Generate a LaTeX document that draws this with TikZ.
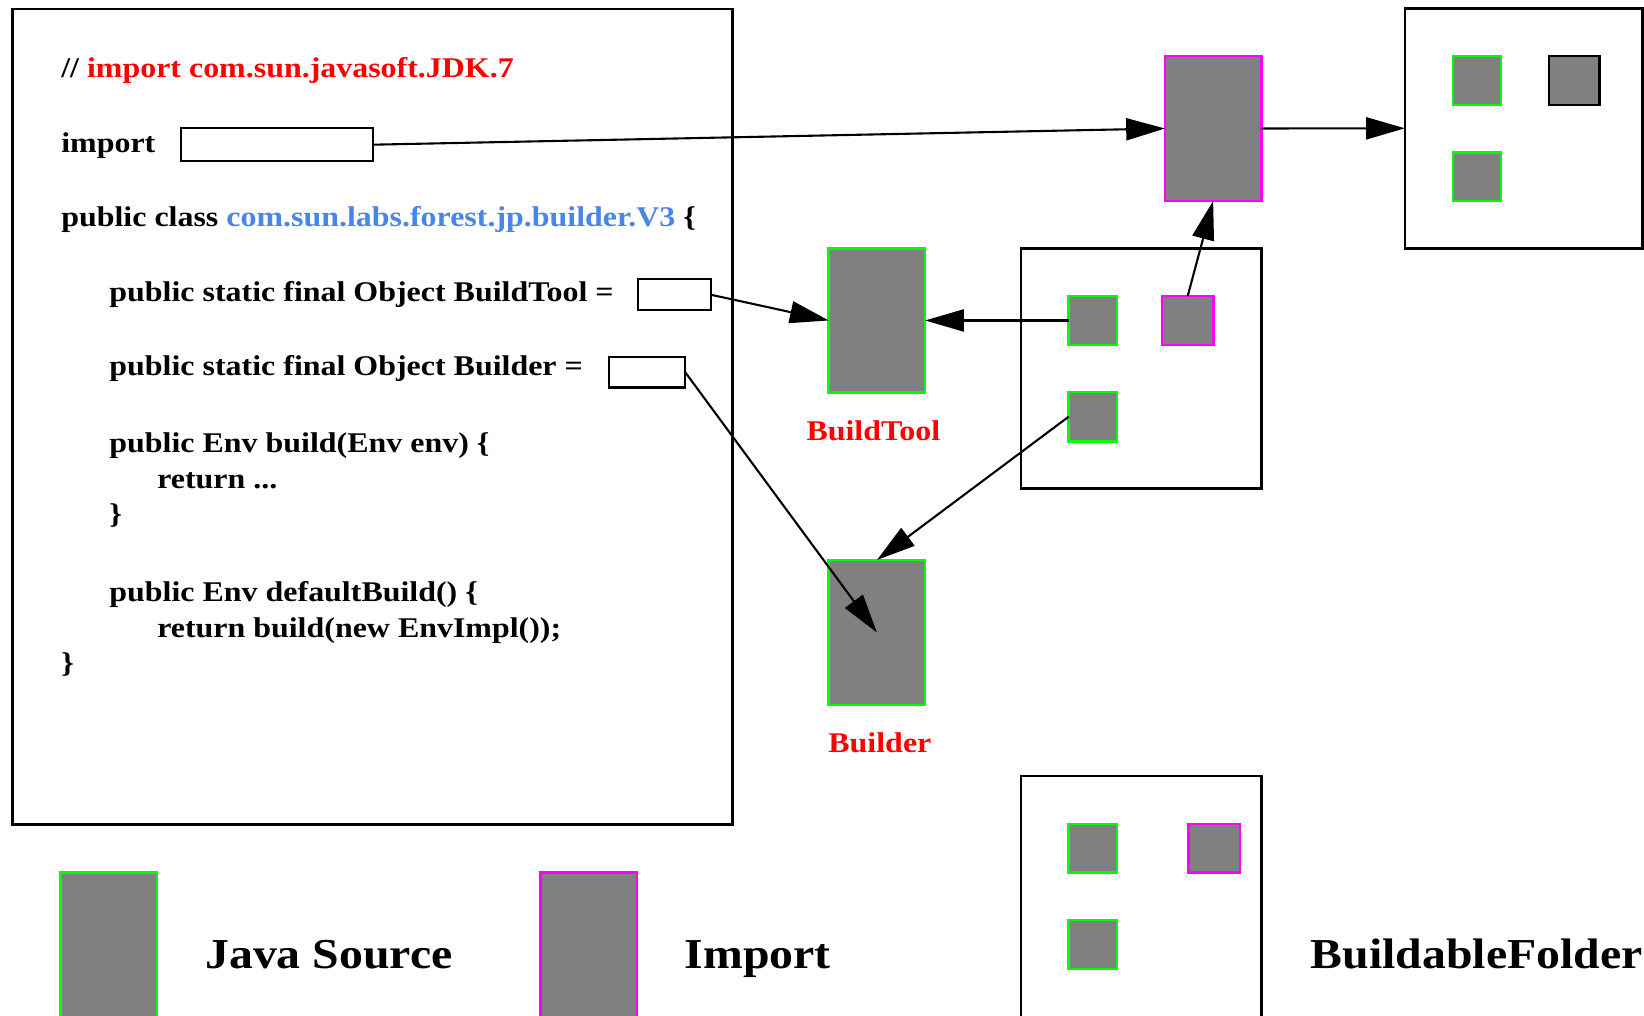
\documentclass[tikz,border=0pt]{standalone}
\usepackage{fontspec}
\setmainfont{Liberation Serif}[FakeStretch=1.12]
\usetikzlibrary{arrows.meta}
\definecolor{srcgreen}{RGB}{0,255,0}
\definecolor{impmagenta}{RGB}{255,0,255}
\definecolor{boxgray}{RGB}{128,128,128}
\definecolor{pkgblue}{RGB}{74,134,232}
\definecolor{labelred}{RGB}{255,0,0}

\begin{document}
\begin{tikzpicture}[x=1pt,y=-1pt,
  every node/.style={inner sep=0pt, outer sep=0pt},
  code/.style={anchor=base west, font=\fontsize{27.2}{34}\selectfont\bfseries},
  legend/.style={anchor=base west, font=\fontsize{40.7}{48}\selectfont\bfseries},
  redlabel/.style={anchor=base, text=labelred, font=\fontsize{27.2}{34}\selectfont\bfseries},
  frame/.style={draw=black, line width=2.4pt, fill=white},
  slot/.style={draw=black, line width=2.2pt, fill=white},
  javasrc/.style={draw=srcgreen, fill=boxgray, line width=2.4pt},
  importbox/.style={draw=impmagenta, fill=boxgray, line width=2.4pt},
  plainbox/.style={draw=black, fill=boxgray, line width=2.6pt},
  link/.style={line width=2pt, -{Triangle[length=37pt,width=21pt]}},
]
\useasboundingbox (0,0) rectangle (1568,969);
\clip (0,0) rectangle (1568,969);

% source file frame
\node[frame, minimum width=686.4, minimum height=777.7] (src) at (355.3,397.45) {};

% source text
\node[code] (l1) at (58.5,73.8) {//\ \textcolor{labelred}{import com.sun.javasoft.JDK.7}};
\node[code] (l2) at (58.5,145.2) {import};
\node[code] (l3) at (58.5,216.0) {public class \textcolor{pkgblue}{com.sun.labs.forest.jp.builder.V3} \{};
\node[code] (l4) at (104.4,287.5) {public static final Object BuildTool =};
\node[code] (l5) at (104.4,358.6) {public static final Object Builder =};
\node[code] (l6) at (104.4,431.3) {public Env build(Env env) \{};
\node[code] (l7) at (150,465.8) {return ...};
\node[code] (l8) at (104.4,499.5) {\}};
\node[code] (l9) at (104.4,573.5) {public Env defaultBuild() \{};
\node[code] (l10) at (150,608.2) {return build(new EnvImpl());};
\node[code] (l11) at (58.5,641.5) {\}};

% value slots
\node[slot, minimum width=183.2, minimum height=31.2] (impslot) at (264,138) {};
\node[slot, minimum width=69.3, minimum height=29.3] (btslot) at (643.15,281.05) {};
\node[slot, minimum width=72.9, minimum height=29.5] (bdslot) at (617.05,354.95) {};

% imported source and its folder
\node[importbox, minimum width=91.9, minimum height=138.3] (impbig) at (1157.05,122.55) {};
\node[frame, minimum width=226.5, minimum height=228.9] (topfolder) at (1453.25,122.35) {};
\node[javasrc, minimum width=45.8, minimum height=46.8] (tfa) at (1408.9,76.8) {};
\node[plainbox, minimum width=47.9, minimum height=46.8] (tfb) at (1501.35,76.8) {};
\node[javasrc, minimum width=45.8, minimum height=46.4] (tfc) at (1408.9,168.5) {};

% BuildTool
\node[javasrc, minimum width=91.9, minimum height=137.7] (btbig) at (836.35,305.65) {};
\node[redlabel] (btlabel) at (833,420.3) {BuildTool};

% buildable folder in the middle
\node[frame, minimum width=229.3, minimum height=229.3] (midfolder) at (1088.35,351.45) {};
\node[javasrc, minimum width=46.2, minimum height=46.7] (mga) at (1042.4,305.65) {};
\node[importbox, minimum width=49, minimum height=46.7] (mmag) at (1132.8,305.65) {};
\node[javasrc, minimum width=46.2, minimum height=47] (mgb) at (1042.4,397.4) {};

% Builder
\node[javasrc, minimum width=91.9, minimum height=138.3] (bdbig) at (836.35,603.25) {};
\node[redlabel] (bdlabel) at (839.2,717.5) {Builder};

% legend
\node[javasrc, minimum width=92.3, minimum height=167.7] (legsrc) at (103.75,916.15) {};
\node[legend] (legsrctext) at (195.8,923.8) {Java Source};
\node[importbox, minimum width=92.2, minimum height=167.7] (legimp) at (561.5,916.15) {};
\node[legend] (legimptext) at (653,923.8) {Import};
\node[frame, minimum width=229.3, minimum height=240] (legfolder) at (1088.35,860.1) {};
\node[javasrc, minimum width=46.2, minimum height=46.4] (lga) at (1042.4,809.1) {};
\node[importbox, minimum width=48.9, minimum height=46.4] (lgm) at (1158.15,809.1) {};
\node[javasrc, minimum width=46.2, minimum height=46.8] (lgb) at (1042.4,900.8) {};
\node[legend] (legfoldertext) at (1250.3,923.5) {BuildableFolder};

% connectors
\draw[link] (impslot.east) -- (impbig.west);
\draw[link] (impbig.east) -- (topfolder.west);
\draw[link] (btslot.east) -- (btbig.west);
\draw[link] (mga.west) -- (btbig.east);
\draw[link] (mmag.north) -- (impbig.south);
\draw[link] (mgb.west) -- (bdbig.north);
\draw[link] (bdslot.east) -- (bdbig.center);
\end{tikzpicture}
\end{document}
